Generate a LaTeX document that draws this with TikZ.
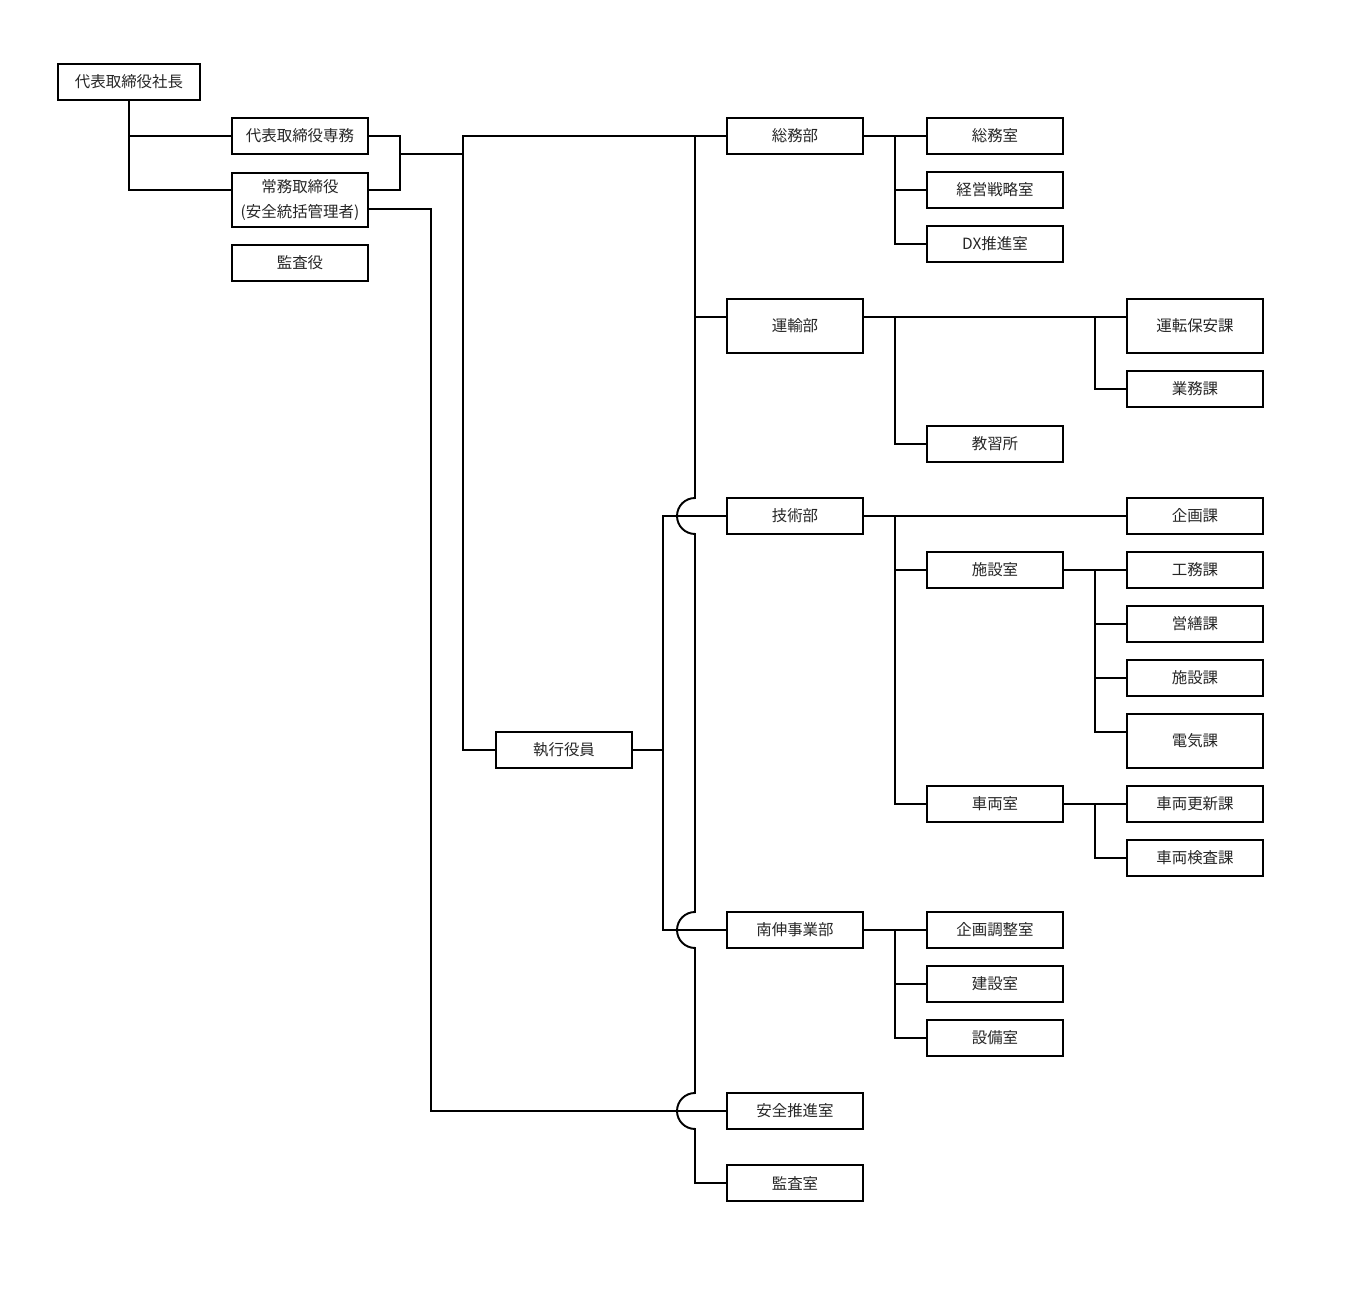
\documentclass[tikz,border=0pt]{standalone}
\usepackage{fontspec}
\setmainfont{Noto Sans CJK JP}

\begin{document}
\begin{tikzpicture}[x=0.02cm,y=-0.02cm,
  box/.style={draw,line width=1.1pt,minimum width=2.72cm,minimum height=0.72cm,inner sep=0pt,
    font=\fontsize{8.8}{14.6}\selectfont,text=black!85},
  tall/.style={box,minimum height=1.08cm},
  wire/.style={line width=1.1pt}]
\useasboundingbox (0,0) rectangle (1350,1290);

\node[box,minimum width=2.84cm] (shacho) at (129,82) {代表取締役社長};
\node[box] (senmu) at (300,136) {代表取締役専務};
\node[tall,align=center] (jomu) at (300,200) {常務取締役\\(安全統括管理者)};
\node[box] (kansayaku) at (300,263) {監査役};
\node[box] (shikko) at (564,750) {執行役員};

\node[box] (somu) at (795,136) {総務部};
\node[tall] (unyu) at (795,326) {運輸部};
\node[box] (gijutsu) at (795,516) {技術部};
\node[box] (nanshin) at (795,930) {南伸事業部};
\node[box] (anzen) at (795,1111) {安全推進室};
\node[box] (kansa) at (795,1183) {監査室};

\node[box] (somushitsu) at (995,136) {総務室};
\node[box] (keiei) at (995,190) {経営戦略室};
\node[box] (dx) at (995,244) {DX推進室};
\node[box] (kyoshu) at (995,444) {教習所};
\node[box] (shisetsu) at (995,570) {施設室};
\node[box] (sharyo) at (995,804) {車両室};
\node[box] (kikakucho) at (995,930) {企画調整室};
\node[box] (kensetsu) at (995,984) {建設室};
\node[box] (setsubi) at (995,1038) {設備室};

\node[tall] (unten) at (1195,326) {運転保安課};
\node[box] (gyomu) at (1195,389) {業務課};
\node[box] (kikaku) at (1195,516) {企画課};
\node[box] (komu) at (1195,570) {工務課};
\node[box] (eizen) at (1195,624) {営繕課};
\node[box] (shisetsuka) at (1195,678) {施設課};
\node[tall] (denki) at (1195,741) {電気課};
\node[box] (koshin) at (1195,804) {車両更新課};
\node[box] (kensa) at (1195,858) {車両検査課};

% top management
\draw[wire] (shacho.south) |- (senmu.west);
\draw[wire] (shacho.south) |- (jomu.west |- 0,190);
\draw[wire] (senmu.east) -| (400,190) -- (jomu.east |- 0,190);
\draw[wire] (400,154) -- (463,154) -- (463,136) -- (somu.west);
\draw[wire] (463,154) |- (shikko.west);

% main bus with hops
\draw[wire] (695,136) -- (695,498) arc[start angle=90,end angle=270,radius=0.36cm]
  -- (695,912) arc[start angle=90,end angle=270,radius=0.36cm]
  -- (695,1093) arc[start angle=90,end angle=270,radius=0.36cm]
  -- (695,1183) -- (kansa.west);
\draw[wire] (695,317) -- (unyu.west |- 0,317);

% executive officers
\draw[wire] (shikko.east) -- (663,750);
\draw[wire] (gijutsu.west) -| (663,930) -- (nanshin.west);

% safety manager
\draw[wire] (jomu.east |- 0,209) -| (431,1111) -- (anzen.west);

% departments
\draw[wire] (somu.east) -- (somushitsu.west);
\foreach \n in {keiei,dx}
  \draw[wire] (895,136) |- (\n.west);

\draw[wire] (unyu.east |- 0,317) -- (unten.west |- 0,317);
\draw[wire] (895,317) |- (kyoshu.west);
\draw[wire] (1095,317) |- (gyomu.west);

\draw[wire] (gijutsu.east) -- (kikaku.west);
\foreach \n in {shisetsu,sharyo}
  \draw[wire] (895,516) |- (\n.west);

\draw[wire] (shisetsu.east) -- (komu.west);
\foreach \n in {eizen,shisetsuka}
  \draw[wire] (1095,570) |- (\n.west);
\draw[wire] (1095,570) |- (denki.west |- 0,732);

\draw[wire] (sharyo.east) -- (koshin.west);
\draw[wire] (1095,804) |- (kensa.west);

\draw[wire] (nanshin.east) -- (kikakucho.west);
\foreach \n in {kensetsu,setsubi}
  \draw[wire] (895,930) |- (\n.west);
\end{tikzpicture}
\end{document}
